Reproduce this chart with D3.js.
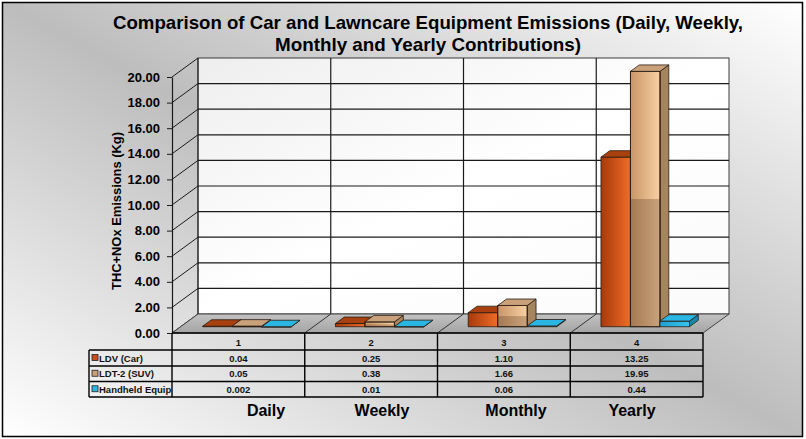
<!DOCTYPE html>
<html><head><meta charset="utf-8">
<script src="https://cdn.jsdelivr.net/npm/d3@7"></script>
<style>html,body{margin:0;padding:0;background:#fff}svg{display:block}</style>
</head><body><svg id="c" width="806" height="439"></svg>
<script>
// ---- data ----
const categories = ["1", "2", "3", "4"];
const periodLabels = ["Daily", "Weekly", "Monthly", "Yearly"];
const seriesNames = ["LDV (Car)", "LDT-2 (SUV)", "Handheld Equip"];
const ldvValues = [0.04, 0.25, 1.10, 13.25];
const ldtValues = [0.05, 0.38, 1.66, 19.95];
const handheldValues = [0.002, 0.01, 0.06, 0.44];
const yTicks = [0, 2, 4, 6, 8, 10, 12, 14, 16, 18, 20];
const titleLines = ["Comparison of Car and Lawncare Equipment Emissions (Daily, Weekly,", "Monthly and Yearly Contributions)"];
const yTitle = "THC+NOx Emissions (Kg)";

// ---- layout ----
const svg = d3.select("#c");
const W = 806, H = 439;
const plotL = 172, plotR = 703, floorY = 333, topY = 77;
const depth = [26, -19];            // full floor depth
const barFront = 0.33, barBack = 0.67;
const periodLabelX = [266, 382, 516, 632];

const x = d3.scaleBand().domain(categories).range([plotL, plotR]).paddingInner(0).paddingOuter(0);
const xs = d3.scaleBand().domain(seriesNames).range([0, x.bandwidth()]).paddingInner(0).paddingOuter(0.75);
const y = d3.scaleLinear().domain([0, 20]).range([floorY, topY]);

const series = [
  {name: seriesNames[0], values: ldvValues, key: "ldv"},
  {name: seriesNames[1], values: ldtValues, key: "ldt"},
  {name: seriesNames[2], values: handheldValues, key: "hh"}
];

const defs = svg.append("defs");
function lin(id, x1, y1, x2, y2, stops) {
  const g = defs.append("linearGradient").attr("id", id)
    .attr("x1", x1).attr("y1", y1).attr("x2", x2).attr("y2", y2);
  stops.forEach(s => g.append("stop").attr("offset", s[0]).attr("stop-color", s[1]));
}
lin("bg", 0, 1, 1, 0, [[0, "#ffffff"], [0.5, "#bdbdbd"], [1, "#ffffff"]]);
lin("wall", 0, 0, 1, 1, [[0, "#eeeeee"], [0.5, "#ffffff"], [1, "#fbfbfb"]]);
lin("floor", 0, 1, 0, 0, [[0, "#a4a4a4"], [1, "#c2c2c2"]]);
lin("ldvF", 0, 0, 1, 0, [[0, "#a63a0c"], [1, "#f06c28"]]);
lin("ldtF", 0, 0, 1, 0, [[0, "#c99566"], [1, "#f8d0a4"]]);
lin("hhF", 0, 0, 1, 0, [[0, "#1f9fd0"], [1, "#33c6ee"]]);
const colors = {
  ldv: {front: "url(#ldvF)", top: "#a8400f", side: "#8c3410", key: "#c8501a"},
  ldt: {front: "url(#ldtF)", top: "#c9a27c", side: "#a6845e", key: "#c8a07a"},
  hh: {front: "url(#hhF)", top: "#2ab6e2", side: "#1a85ae", key: "#2ab6e2"}
};
const font = "Liberation Sans, Arial, sans-serif";

// background + frame
svg.append("rect").attr("x", 0).attr("y", 0).attr("width", W).attr("height", H).attr("fill", "#fff");
svg.append("rect").attr("x", 2.5).attr("y", 2.5).attr("width", 800).attr("height", 434)
  .attr("fill", "url(#bg)").attr("stroke", "#000").attr("stroke-width", 1.5);

// title
titleLines.forEach((t, i) => {
  svg.append("text").attr("x", 428).attr("y", 29 + i * 22).attr("text-anchor", "middle")
    .attr("font-family", font).attr("font-weight", "bold")
    .attr("font-size", 19).attr("fill", "#000")
    .attr("textLength", i === 0 ? 630 : 306).attr("lengthAdjust", "spacingAndGlyphs").text(t);
});

const dx = depth[0], dy = depth[1];
const gP = svg.append("g");

// back wall
gP.append("rect").attr("x", plotL + dx).attr("y", y(20) + dy).attr("width", plotR - plotL).attr("height", y(0) - y(20))
  .attr("fill", "url(#wall)").attr("stroke", "#3a3a3a").attr("stroke-width", 1);
gP.selectAll("line.grid").data(yTicks.slice(1, -1)).join("line").attr("class", "grid")
  .attr("x1", plotL + dx).attr("x2", plotR + dx).attr("y1", d => y(d) + dy).attr("y2", d => y(d) + dy)
  .attr("stroke", "#1a1a1a").attr("stroke-width", 1.2);
gP.selectAll("line.vgrid").data(categories.slice(1)).join("line").attr("class", "vgrid")
  .attr("x1", d => x(d) + dx).attr("x2", d => x(d) + dx).attr("y1", y(20) + dy).attr("y2", y(0) + dy)
  .attr("stroke", "#1a1a1a").attr("stroke-width", 1.2);
gP.selectAll("line.diag").data(yTicks).join("line").attr("class", "diag")
  .attr("x1", plotL).attr("y1", d => y(d)).attr("x2", plotL + dx).attr("y2", d => y(d) + dy)
  .attr("stroke", "#1a1a1a").attr("stroke-width", 1);
gP.append("line").attr("x1", plotL + dx).attr("x2", plotL + dx).attr("y1", y(20) + dy).attr("y2", y(0) + dy)
  .attr("stroke", "#1a1a1a").attr("stroke-width", 1);

// floor
const floorPts = [[plotL, floorY], [plotR, floorY], [plotR + dx, floorY + dy], [plotL + dx, floorY + dy]];
gP.append("polygon").attr("points", floorPts.map(p => p.join(",")).join(" "))
  .attr("fill", "url(#floor)").attr("stroke", "#444").attr("stroke-width", 1);
gP.selectAll("line.fdiv").data(categories.slice(1)).join("line").attr("class", "fdiv")
  .attr("x1", d => x(d)).attr("y1", floorY).attr("x2", d => x(d) + dx).attr("y2", floorY + dy)
  .attr("stroke", "#333").attr("stroke-width", 1);

// y axis
const axis = d3.axisLeft(y).tickValues(yTicks).tickFormat(d3.format(".2f")).tickSize(5).tickSizeOuter(0).tickPadding(7);
const ga = svg.append("g").attr("transform", `translate(${plotL},0)`).call(axis);
ga.select(".domain").attr("stroke", "#1a1a1a").attr("stroke-width", 1.2);
ga.selectAll(".tick line").attr("stroke", "#1a1a1a");
ga.selectAll(".tick text").attr("font-family", font).attr("font-weight", "bold")
  .attr("font-size", 13).attr("fill", "#000");

// y title
svg.append("text").attr("transform", "translate(121,211) rotate(-90)").attr("text-anchor", "middle")
  .attr("font-family", font).attr("font-weight", "bold").attr("font-size", 13.5).attr("fill", "#000")
  .attr("textLength", 158).attr("lengthAdjust", "spacingAndGlyphs").text(yTitle);

// bars
const fx = dx * barFront, fy = dy * barFront;
const bdx = dx * (barBack - barFront), bdy = dy * (barBack - barFront);
const gb = svg.append("g");
categories.forEach((c, ci) => {
  series.forEach(s => {
    const v = s.values[ci];
    const x0 = x(c) + xs(s.name) + fx, w = xs.bandwidth();
    const yt = y(v) + fy, yb = y(0) + fy;
    const col = colors[s.key];
    const g = gb.append("g").attr("stroke", "#2a1a10").attr("stroke-width", 0.8).attr("stroke-linejoin", "round");
    g.append("polygon").attr("points", [[x0 + w, yt], [x0 + w + bdx, yt + bdy], [x0 + w + bdx, yb + bdy], [x0 + w, yb]].map(p => p.join(",")).join(" "))
      .attr("fill", col.side);
    g.append("rect").attr("x", x0).attr("y", yt).attr("width", w).attr("height", Math.max(yb - yt, 0.5)).attr("fill", col.front);
    if (s.key === "ldt") {
      const ym = (yt + yb) / 2;
      g.append("rect").attr("x", x0).attr("y", ym).attr("width", w).attr("height", yb - ym)
        .attr("fill", "#4a3018").attr("fill-opacity", 0.28).attr("stroke", "none");
      g.append("rect").attr("x", x0).attr("y", yt).attr("width", w).attr("height", Math.max(yb - yt, 0.5))
        .attr("fill", "none");
    }
    g.append("polygon").attr("points", [[x0, yt], [x0 + w, yt], [x0 + w + bdx, yt + bdy], [x0 + bdx, yt + bdy]].map(p => p.join(",")).join(" "))
      .attr("fill", col.top);
  });
});

// data table
const rowY = [333, 350, 366, 381.5, 397];
const tblL = 89;
const gt = svg.append("g").attr("font-family", font).attr("font-weight", "bold").attr("font-size", 9.5).attr("fill", "#111");
const ln = (x1, y1, x2, y2) => gt.append("line").attr("x1", x1).attr("y1", y1).attr("x2", x2).attr("y2", y2)
  .attr("stroke", "#000").attr("stroke-width", 1.4);
ln(plotL, rowY[0], plotR, rowY[0]);
for (let i = 1; i < rowY.length; i++) ln(tblL, rowY[i], plotR, rowY[i]);
ln(tblL, rowY[1], tblL, rowY[4]);
ln(plotL, rowY[0], plotL, rowY[4]);
categories.forEach(c => ln(x(c) + x.bandwidth(), rowY[0], x(c) + x.bandwidth(), rowY[4]));
gt.selectAll("text.hdr").data(categories).join("text").attr("class", "hdr")
  .attr("x", d => x(d) + x.bandwidth() / 2).attr("y", (rowY[0] + rowY[1]) / 2 + 4).attr("text-anchor", "middle").text(d => d);
const fmt = v => v >= 0.01 ? v.toFixed(2) : String(v);
series.forEach((s, si) => {
  const cy = (rowY[si + 1] + rowY[si + 2]) / 2;
  gt.append("rect").attr("x", 92).attr("y", cy - 3.5).attr("width", 6).attr("height", 6)
    .attr("fill", colors[s.key].key).attr("stroke", "#222").attr("stroke-width", 0.8);
  gt.append("text").attr("x", 99).attr("y", cy + 3.5).text(s.name);
  gt.selectAll(null).data(s.values).join("text")
    .attr("x", (d, i) => x(categories[i]) + x.bandwidth() / 2).attr("y", cy + 3.5)
    .attr("text-anchor", "middle").text(d => fmt(d));
});

// period labels
svg.selectAll("text.period").data(periodLabels).join("text").attr("class", "period")
  .attr("x", (d, i) => periodLabelX[i]).attr("y", 416).attr("text-anchor", "middle")
  .attr("font-family", font).attr("font-weight", "bold").attr("font-size", 16).attr("fill", "#000").text(d => d);
</script></body></html>
